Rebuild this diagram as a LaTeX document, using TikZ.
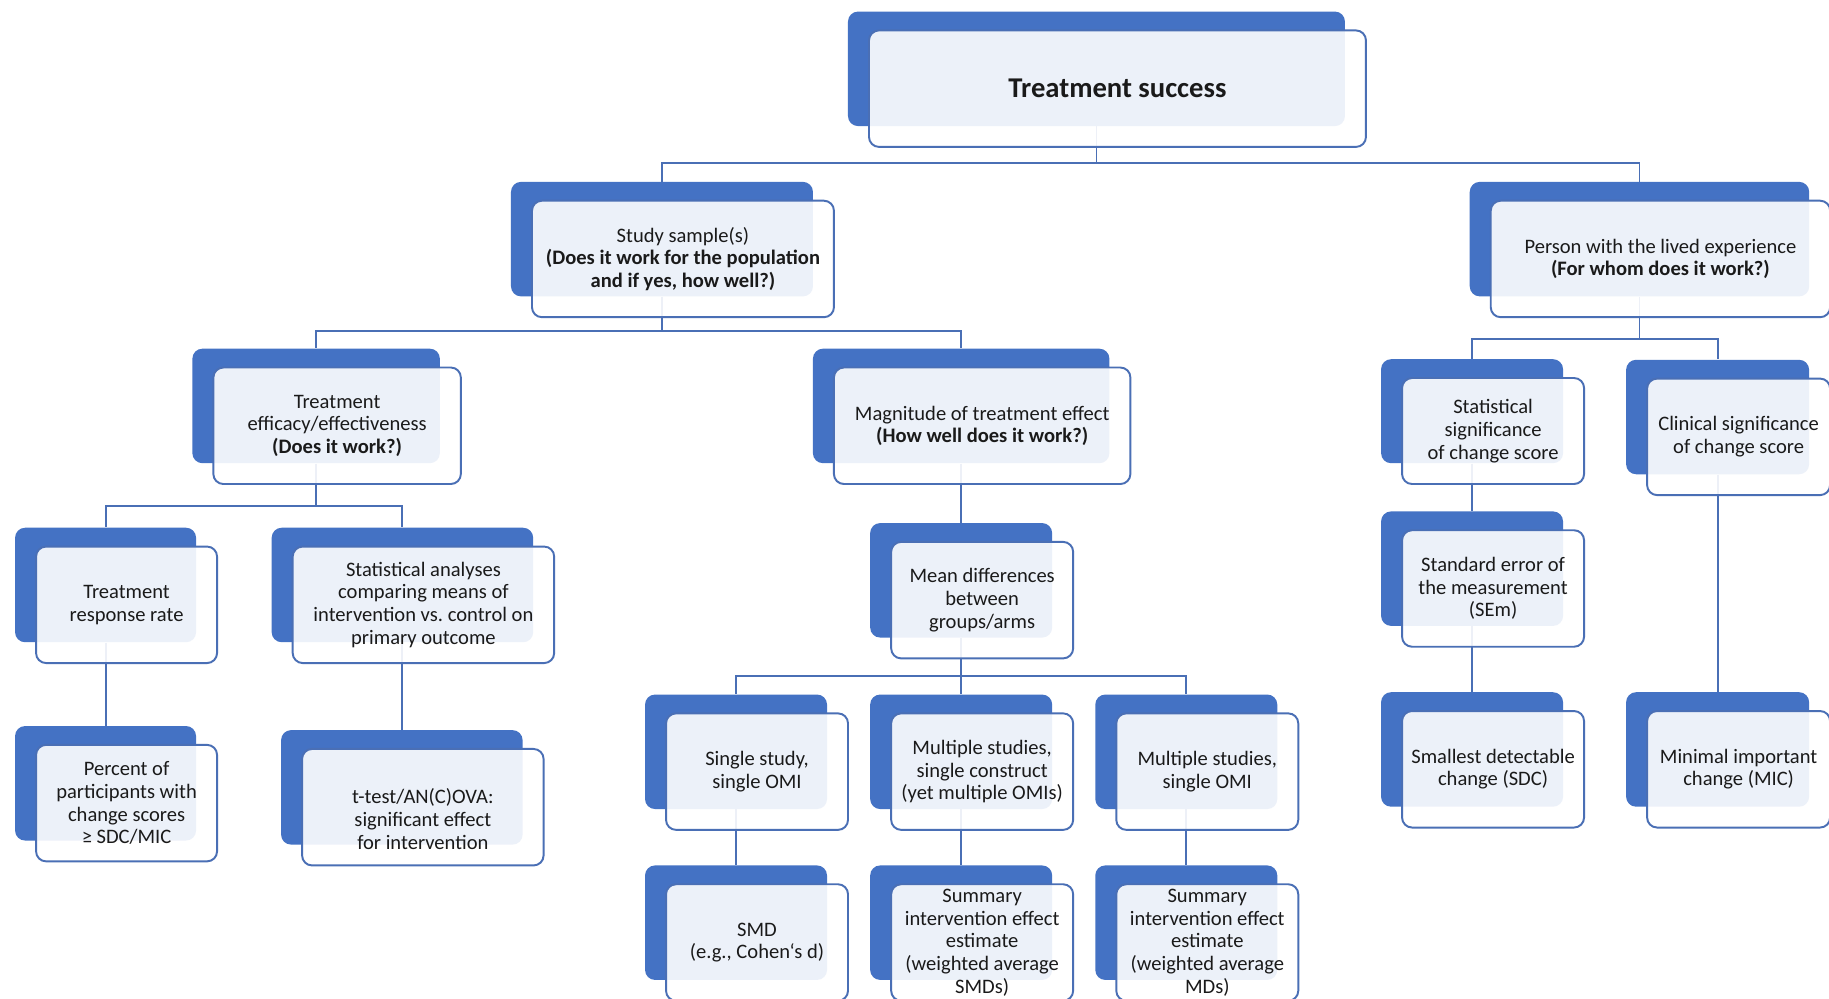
\documentclass[tikz,border=0pt]{standalone}
\usepackage{fontspec}
\setmainfont{Carlito}
\usetikzlibrary{positioning,calc}
\definecolor{cblue}{HTML}{4472C4}
\definecolor{cline}{HTML}{4A6FB5}
\definecolor{ctext}{HTML}{1A1A1A}

\begin{document}
\begin{tikzpicture}[x=0.02333cm, y=-0.02333cm, every node/.style={font=\fontsize{11.7}{12.9}\selectfont, align=center, text=ctext}, back/.style={fill=cblue, rounded corners=0.2cm, minimum width=#1, minimum height=2.29cm, inner sep=0pt}, front/.style={draw=cline, line width=1.1pt, fill=white, fill opacity=0.9, text opacity=1, rounded corners=0.2cm, minimum width=#1, minimum height=2.33cm, inner sep=0pt}, link/.style={draw=cline, line width=1.1pt}]
    \fill[white] (0,0) rectangle (1568,856);
    \useasboundingbox (0,0) rectangle (1568,856);
    % blue plates
    \node[back=9.94cm] (succ) at (940,59) {};
    \node[back=6.04cm] (sample) at (567.5,205) {};
    \node[back=6.79cm] (person) at (1405.5,205) {};
    \node[back=4.95cm] (efficacy) at (271,348) {};
    \node[back=5.93cm] (magnitude) at (824,348) {};
    \node[back=3.64cm, minimum height=2.08cm] (statsig) at (1262,352.5) {};
    \node[back=3.66cm] (clinsig) at (1472.5,357.5) {};
    \node[back=3.62cm] (response) at (90.5,501.5) {};
    \node[back=5.23cm] (analyses) at (345,501.5) {};
    \node[back=3.64cm] (meandiff) at (824,497.5) {};
    \node[back=3.64cm] (sem) at (1262,487.5) {};
    \node[back=3.62cm] (percent) at (90.5,671.5) {};
    \node[back=4.83cm] (ttest) at (344.5,675) {};
    \node[back=3.64cm] (single) at (631,644.5) {};
    \node[back=3.64cm] (multsmd) at (824,644.5) {};
    \node[back=3.64cm] (multmd) at (1017,644.5) {};
    \node[back=3.64cm] (smd) at (631,791) {};
    \node[back=3.64cm] (sumsmd) at (824,791) {};
    \node[back=3.64cm] (summd) at (1017,791) {};
    \node[back=3.64cm] (sdc) at (1262,642.5) {};
    \node[back=3.66cm] (mic) at (1472.5,642.5) {};
    % tree lines
    \draw[link] (succ.south) |- ($(succ.south)!.67!(sample.north)$) -| (sample.north);
    \draw[link] (succ.south) |- ($(succ.south)!.67!(person.north)$) -| (person.north);
    \draw[link] (sample.south) |- ($(sample.south)!.67!(efficacy.north)$) -| (efficacy.north);
    \draw[link] (sample.south) |- ($(sample.south)!.67!(magnitude.north)$) -| (magnitude.north);
    \draw[link] (person.south) |- ($(person.south)!.67!(clinsig.north)$) -| (statsig.north);
    \draw[link] (person.south) |- ($(person.south)!.67!(clinsig.north)$) -| (clinsig.north);
    \draw[link] (efficacy.south) |- ($(efficacy.south)!.67!(response.north)$) -| (response.north);
    \draw[link] (efficacy.south) |- ($(efficacy.south)!.67!(analyses.north)$) -| (analyses.north);
    \draw[link] (meandiff.south) |- ($(meandiff.south)!.67!(single.north)$) -| (single.north);
    \draw[link] (meandiff.south) -- (multsmd.north);
    \draw[link] (meandiff.south) |- ($(meandiff.south)!.67!(multmd.north)$) -| (multmd.north);
    \draw[link] (magnitude.south) -- (meandiff.north);
    \draw[link] (statsig.south) -- (sem.north);
    \draw[link] (sem.south) -- (sdc.north);
    \draw[link] (clinsig.south) -- (mic.north);
    \draw[link] (response.south) -- (percent.north);
    \draw[link] (analyses.south) -- (analyses.south |- ttest.north);
    \draw[link] (single.south) -- (smd.north);
    \draw[link] (multsmd.south) -- (sumsmd.north);
    \draw[link] (multmd.south) -- (summd.north);
    % text cards
    \node[front=9.94cm, font=\fontsize{16.3}{19}\selectfont\bfseries] (succ-f) at ([shift={(18,17)}]succ) {Treatment success};
    \node[front=6.04cm] (sample-f) at ([shift={(18,17)}]sample) {Study sample(s)\\ \textbf{(Does it work for the population}\\ \textbf{and if yes, how well?)}};
    \node[front=6.79cm] (person-f) at ([shift={(18,17)}]person) {Person with the lived experience\\ \textbf{(For whom does it work?)}};
    \node[front=4.95cm] (efficacy-f) at ([shift={(18,17)}]efficacy) {Treatment\\ efficacy/effectiveness\\ \textbf{(Does it work?)}};
    \node[front=5.93cm] (magnitude-f) at ([shift={(18,17)}]magnitude) {Magnitude of treatment effect\\ \textbf{(How well does it work?)}};
    \node[front=3.64cm, minimum height=2.12cm] (statsig-f) at ([shift={(18,17)}]statsig) {Statistical\\ significance\\ of change score};
    \node[front=3.66cm] (clinsig-f) at ([shift={(18,17)}]clinsig) {Clinical significance\\ of change score};
    \node[front=3.62cm] (response-f) at ([shift={(18,17)}]response) {Treatment\\ response rate};
    \node[front=5.23cm] (analyses-f) at ([shift={(18,17)}]analyses) {Statistical analyses\\ comparing means of\\ intervention vs.\ control on\\ primary outcome};
    \node[front=3.64cm] (meandiff-f) at ([shift={(18,17)}]meandiff) {Mean differences\\ between\\ groups/arms};
    \node[front=3.64cm] (sem-f) at ([shift={(18,17)}]sem) {Standard error of\\ the measurement\\ (SEm)};
    \node[front=3.62cm] (percent-f) at ([shift={(18,17)}]percent) {Percent of\\ participants with\\ change scores\\ ≥ SDC/MIC};
    \node[front=4.83cm] (ttest-f) at ([shift={(18,17)}]ttest) {\rule{0pt}{22pt}t-test/AN(C)OVA:\\ significant effect\\ for intervention};
    \node[front=3.64cm] (single-f) at ([shift={(18,17)}]single) {Single study,\\ single OMI};
    \node[front=3.64cm] (multsmd-f) at ([shift={(18,17)}]multsmd) {Multiple studies,\\ single construct\\ (yet multiple OMIs)};
    \node[front=3.64cm] (multmd-f) at ([shift={(18,17)}]multmd) {Multiple studies,\\ single OMI};
    \node[front=3.64cm] (smd-f) at ([shift={(18,17)}]smd) {SMD\\ (e.g.,\ Cohen‘s d)};
    \node[front=3.64cm] (sumsmd-f) at ([shift={(18,17)}]sumsmd) {Summary\\ intervention effect\\ estimate\\ (weighted average\\ SMDs)};
    \node[front=3.64cm] (summd-f) at ([shift={(18,17)}]summd) {Summary\\ intervention effect\\ estimate\\ (weighted average\\ MDs)};
    \node[front=3.64cm] (sdc-f) at ([shift={(18,17)}]sdc) {Smallest detectable\\ change (SDC)};
    \node[front=3.66cm] (mic-f) at ([shift={(18,17)}]mic) {Minimal important\\ change (MIC)};
  \end{tikzpicture}
\end{document}
